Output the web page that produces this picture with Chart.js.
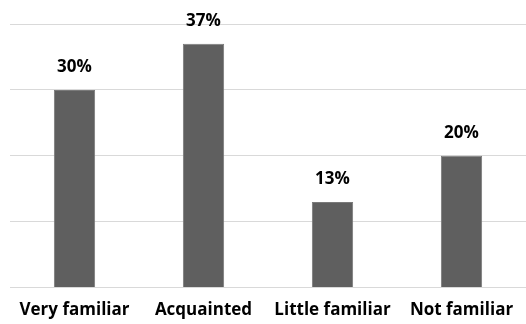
<!DOCTYPE html>
<html>
<head>
<meta charset="utf-8">
<script src="https://cdn.jsdelivr.net/npm/chart.js@4/dist/chart.umd.min.js"></script>
<style>
  html, body { margin: 0; padding: 0; background: #ffffff; }
  #wrap { width: 526px; height: 324px; }
</style>
</head>
<body>
<div id="wrap"><canvas id="c" width="526" height="324"></canvas></div>
<script>
const categories = ['Very familiar', 'Acquainted', 'Little familiar', 'Not familiar'];
const shares = [30, 37, 13, 20];
const yTicks = [0, 10, 20, 30, 40];

const FONT = '"Open Sans", Lato, sans-serif';

// Percent labels drawn above each bar
const valueLabels = {
  id: 'valueLabels',
  afterDatasetsDraw(chart) {
    const ctx = chart.ctx;
    const meta = chart.getDatasetMeta(0);
    ctx.save();
    ctx.font = 'bold 17px ' + FONT;
    ctx.fillStyle = '#000000';
    ctx.textAlign = 'center';
    ctx.textBaseline = 'alphabetic';
    meta.data.forEach((bar, i) => {
      ctx.fillText(shares[i] + '%', bar.x, bar.y - 18);
    });
    ctx.restore();
  }
};

new Chart(document.getElementById('c'), {
  type: 'bar',
  data: {
    labels: categories,
    datasets: [{
      data: shares,
      backgroundColor: '#5f5f5f',
      borderColor: '#7a7a7a',
      borderWidth: 1,
      categoryPercentage: 1,
      barPercentage: 0.32
    }]
  },
  options: {
    responsive: false,
    animation: false,
    layout: { padding: { left: 10, right: 0, top: 24, bottom: 0 } },
    plugins: { legend: { display: false }, tooltip: { enabled: false } },
    scales: {
      x: {
        grid: { display: false },
        border: { display: false },
        ticks: {
          color: '#000000',
          font: { family: FONT, size: 17, weight: 'bold' },
          padding: 4,
          maxRotation: 0,
          autoSkip: false
        }
      },
      y: {
        min: yTicks[0],
        max: yTicks[yTicks.length - 1],
        afterBuildTicks(axis) { axis.ticks = yTicks.map(v => ({ value: v })); },
        grid: { color: '#d9d9d9', lineWidth: 1, drawTicks: false },
        border: { display: false },
        ticks: { display: false }
      }
    }
  },
  plugins: [valueLabels]
});
</script>
</body>
</html>
